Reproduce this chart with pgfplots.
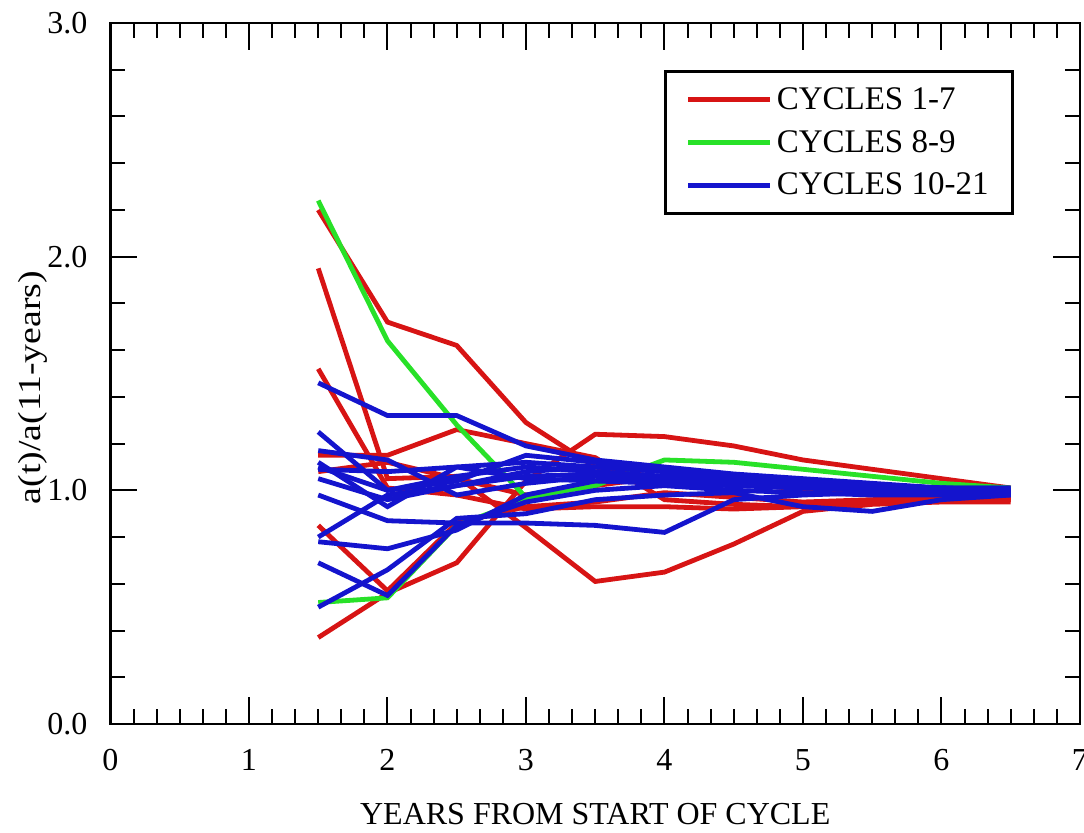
\documentclass[border=0pt]{standalone}
\usepackage{fontspec}
\setmainfont{Liberation Serif}
\usepackage{graphicx}
\usepackage{pgfplots}
\pgfplotsset{compat=1.18}
\definecolor{cred}{RGB}{215,20,20}
\definecolor{cgreen}{RGB}{40,225,40}
\definecolor{cblue}{RGB}{20,20,205}
\begin{document}
\begin{tikzpicture}[font=\fontsize{16pt}{19pt}\selectfont]
\path[use as bounding box] (0,0) rectangle (542pt,416pt);
\begin{axis}[
 at={(55.25pt,54pt)}, anchor=south west,
 scale only axis, width=484.75pt, height=350.5pt,
 xmin=0, xmax=7, ymin=0, ymax=3,
 xtick={0,1,2,3,4,5,6,7}, ytick={0,1,2,3},
 minor x tick num=5, minor y tick num=4,
 tick align=inside, major tick length=13.5pt, minor tick length=7.5pt,
 every tick/.style={black, line width=1pt},
 axis line style={line width=1.4pt},
 /pgf/number format/assume math mode=true,
 yticklabel style={/pgf/number format/.cd, fixed, fixed zerofill, precision=1, /tikz/.cd, xshift=-8pt},
 xticklabel style={yshift=-9pt},
 xlabel={YEARS FROM START OF CYCLE},
 ylabel={\scalebox{1.18}[1]{a(t)/a(11-years)}},
 xlabel style={at={(axis description cs:0.5,-0.129)}, anchor=center},
 ylabel style={at={(axis description cs:-0.0805,0.48)}, anchor=center},
 legend style={at={(axis cs:4.0,2.80)}, anchor=north west, draw=black, line width=1.5pt,
   font=\fontsize{16.5pt}{19pt}\selectfont, row sep=5pt, inner xsep=10pt, inner ysep=6pt},
 legend cell align=left,
 legend image code/.code={\draw[#1] (0pt,0pt) -- (35pt,0pt); \path (0pt,0pt) -- (41pt,0pt);},
 every axis plot/.append style={line width=2.4pt},
]
% ---- cycles 1-7 (red)
\addplot[cred] coordinates {(1.5,2.20) (2,1.72) (2.5,1.62) (3,1.29) (3.5,1.10) (4,1.05) (4.5,1.04) (5,1.03) (5.5,1.02) (6,1.00) (6.5,0.98)};
\addlegendentry{CYCLES 1-7}
\addplot[cred, forget plot] coordinates {(1.5,1.95) (2,1.05) (2.5,1.06) (3,0.84) (3.5,0.61) (4,0.65) (4.5,0.77) (5,0.91) (5.5,0.94) (6,0.95) (6.5,0.95)};
\addplot[cred, forget plot] coordinates {(1.5,1.52) (2,1.01) (2.5,0.98) (3,0.92) (3.5,0.93) (4,0.93) (4.5,0.92) (5,0.93) (5.5,0.95) (6,0.96) (6.5,0.97)};
\addplot[cred, forget plot] coordinates {(1.5,1.15) (2,1.15) (2.5,1.26) (3,1.20) (3.5,1.14) (4,0.96) (4.5,0.94) (5,0.93) (5.5,0.95) (6,0.96) (6.5,0.96)};
\addplot[cred, forget plot] coordinates {(1.5,0.37) (2,0.56) (2.5,0.69) (3,1.04) (3.5,1.24) (4,1.23) (4.5,1.19) (5,1.13) (5.5,1.09) (6,1.05) (6.5,1.01)};
\addplot[cred, forget plot] coordinates {(1.5,0.85) (2,0.57) (2.5,0.86) (3,0.93) (3.5,0.95) (4,0.99) (4.5,0.97) (5,0.95) (5.5,0.96) (6,0.97) (6.5,0.97)};
\addplot[cred, forget plot] coordinates {(1.5,1.08) (2,1.12) (2.5,1.05) (3,0.98) (3.5,1.02) (4,1.06) (4.5,1.04) (5,1.00) (5.5,0.98) (6,0.97) (6.5,0.96)};
% ---- cycles 8-9 (green)
\addplot[cgreen] coordinates {(1.5,2.24) (2,1.64) (2.5,1.28) (3,0.97) (3.5,1.02) (4,1.13) (4.5,1.12) (5,1.09) (5.5,1.06) (6,1.03) (6.5,1.01)};
\addlegendentry{CYCLES 8-9}
\addplot[cgreen, forget plot] coordinates {(1.5,0.52) (2,0.54) (2.5,0.85) (3,0.96) (3.5,1.04) (4,1.05) (4.5,1.03) (5,1.02) (5.5,1.01) (6,1.00) (6.5,1.00)};
% ---- cycles 10-21 (blue)
\addplot[cblue] coordinates {(1.5,1.46) (2,1.32) (2.5,1.32) (3,1.19) (3.5,1.13) (4,1.10) (4.5,1.07) (5,1.05) (5.5,1.03) (6,1.01) (6.5,1.00)};
\addlegendentry{CYCLES 10-21}
\addplot[cblue, forget plot] coordinates {(1.5,1.25) (2,1.00) (2.5,1.06) (3,1.10) (3.5,1.08) (4,1.06) (4.5,1.05) (5,1.03) (5.5,1.02) (6,1.01) (6.5,1.00)};
\addplot[cblue, forget plot] coordinates {(1.5,1.17) (2,1.13) (2.5,0.98) (3,1.03) (3.5,1.06) (4,1.05) (4.5,1.04) (5,1.02) (5.5,1.01) (6,1.00) (6.5,1.00)};
\addplot[cblue, forget plot] coordinates {(1.5,1.12) (2,0.93) (2.5,1.10) (3,1.12) (3.5,1.10) (4,1.08) (4.5,1.06) (5,1.04) (5.5,1.02) (6,1.01) (6.5,1.01)};
\addplot[cblue, forget plot] coordinates {(1.5,1.09) (2,1.08) (2.5,1.10) (3,1.05) (3.5,1.04) (4,1.05) (4.5,1.04) (5,1.03) (5.5,1.02) (6,1.01) (6.5,1.00)};
\addplot[cblue, forget plot] coordinates {(1.5,0.98) (2,0.87) (2.5,0.86) (3,0.86) (3.5,0.85) (4,0.82) (4.5,0.96) (5,0.98) (5.5,0.99) (6,0.99) (6.5,0.99)};
\addplot[cblue, forget plot] coordinates {(1.5,0.80) (2,0.98) (2.5,1.02) (3,1.08) (3.5,1.10) (4,1.08) (4.5,1.05) (5,1.03) (5.5,1.01) (6,1.00) (6.5,0.99)};
\addplot[cblue, forget plot] coordinates {(1.5,0.69) (2,0.55) (2.5,0.85) (3,0.95) (3.5,1.00) (4,1.02) (4.5,1.00) (5,0.99) (5.5,0.98) (6,0.98) (6.5,0.98)};
\addplot[cblue, forget plot] coordinates {(1.5,0.50) (2,0.66) (2.5,0.88) (3,0.90) (3.5,0.96) (4,0.98) (4.5,0.99) (5,0.93) (5.5,0.91) (6,0.96) (6.5,0.98)};
\addplot[cblue, forget plot] coordinates {(1.5,0.78) (2,0.75) (2.5,0.83) (3,0.98) (3.5,1.04) (4,1.03) (4.5,1.02) (5,1.01) (5.5,1.00) (6,0.99) (6.5,0.99)};
\addplot[cblue, forget plot] coordinates {(1.5,1.05) (2,0.96) (2.5,1.02) (3,1.06) (3.5,1.07) (4,1.04) (4.5,1.03) (5,1.02) (5.5,1.01) (6,1.00) (6.5,1.00)};
\addplot[cblue, forget plot] coordinates {(1.5,1.10) (2,1.00) (2.5,1.04) (3,1.15) (3.5,1.12) (4,1.09) (4.5,1.06) (5,1.04) (5.5,1.02) (6,1.01) (6.5,1.01)};
\end{axis}
\end{tikzpicture}
\end{document}
